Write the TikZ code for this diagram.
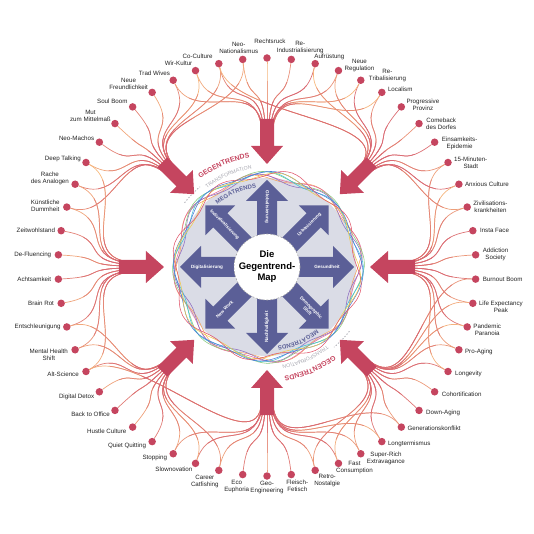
\documentclass[tikz,border=0pt]{standalone}
\usepackage{fontspec}
\setmainfont{Liberation Sans}
\usetikzlibrary{calc,decorations.text,backgrounds}
\definecolor{gtred}{HTML}{C5455F}
\definecolor{lnred}{HTML}{D65F73}
\definecolor{lnorange}{HTML}{F9BE7E}
\definecolor{mtpurple}{HTML}{5B5F97}
\definecolor{discgray}{HTML}{DADCE6}
\definecolor{tfgray}{HTML}{A7A7B0}
\definecolor{txtgray}{HTML}{222222}
\definecolor{ringA}{HTML}{F5A35C}
\definecolor{ringB}{HTML}{E56B9B}
\definecolor{ringC}{HTML}{8F6CC0}
\definecolor{ringD}{HTML}{86C97A}
\definecolor{ringE}{HTML}{3FC1D9}
\definecolor{ringF}{HTML}{4C78D8}
\definecolor{ringG}{HTML}{F2C94C}
\definecolor{ringH}{HTML}{E0556A}
\newcommand\gtconns[1]{%
\foreach \k in {0,...,53}{
  \pgfmathsetmacro{\ang}{90-\k*20/3}
  \pgfmathsetmacro{\tgt}{45*round(\ang/45)}
  \pgfmathsetmacro{\dlt}{\ang-\tgt}
  \pgfmathsetmacro{\off}{\dlt/22.5*6}
  \pgfmathtruncatemacro{\mix}{10+mod(\k*37,75)}
  \pgfmathtruncatemacro{\mc}{\mix+(90-\mix)*#1/2}
  \coordinate (in\k) at ($(\tgt:140)+(\tgt+90:\off)$);
  \draw[conn,draw=lnred!\mc!lnorange] (d\k) .. controls ($(\ang:160)$) and ($(\tgt:188)+(\tgt+90:2.5*\off)$) .. (in\k);
  \pgfmathtruncatemacro{\sec}{abs(\dlt)>12}
  \ifnum\sec=1
    \pgfmathsetmacro{\tgb}{\tgt+45*sign(\dlt)}
    \pgfmathsetmacro{\offb}{max(-6,min(6,(\ang-\tgb)/22.5*4))}
    \pgfmathtruncatemacro{\mixb}{5+mod(\k*23,45)}
    \pgfmathtruncatemacro{\mcb}{\mixb+(90-\mixb)*#1/2}
    \coordinate (jn\k) at ($(\tgb:140)+(\tgb+90:\offb)$);
    \draw[conn,draw=lnred!\mcb!lnorange] (d\k) .. controls ($(\ang:160)$) and ($(\tgb:190)+(\tgb+90:2.5*\offb)$) .. (jn\k);
  \fi
}
\foreach \k/\tgb in {52/-315,53/-225,5/90,36/-90,14/-45,15/-45,21/-90,22/-90}{
  \pgfmathsetmacro{\ang}{90-\k*20/3}
  \pgfmathsetmacro{\offb}{max(-6,min(6,(\ang-\tgb)/22.5*4))}
  \pgfmathtruncatemacro{\mixb}{5+mod(\k*17,40)}
  \pgfmathtruncatemacro{\mcb}{\mixb+(90-\mixb)*#1/2}
  \coordinate (xn\k) at ($(\tgb:140)+(\tgb+90:\offb)$);
  \draw[conn,draw=lnred!\mcb!lnorange] (d\k) .. controls ($(\ang:155)$) and ($(\tgb:195)+(\tgb+90:2.5*\offb)$) .. (xn\k);
}}
\begin{document}
\begin{tikzpicture}[x=1pt,y=1pt,
  dotnode/.style={circle,fill=gtred,inner sep=0pt,minimum size=7.5pt},
  lbl/.style={font=\fontsize{6.2}{7}\selectfont,align=center,inner sep=0pt,text=txtgray},
  conn/.style={line width=0.7pt,line cap=round},
  mtlbl/.style={font=\fontsize{4.6}{5.2}\selectfont\bfseries,text=white,align=center,inner sep=0pt},
  ringline/.style={line width=0.55pt},
  redarrow/.style={fill=gtred},
  purplearrow/.style={fill=mtpurple}
]
\useasboundingbox (-267,-267) rectangle (267,267);

% disc and rings
\fill[discgray] (0,0) circle (89);
\foreach \col/\ph/\am/\rr in {ringA/0/3.5/91,ringB/20/3/92,ringC/45/4/90,ringD/70/3/93,ringE/100/3.5/91.5,ringF/130/2.5/92.5,ringG/160/3/90.5,ringH/200/4/92}{
  \draw[ringline,\col] plot[smooth cycle,samples=72,domain=0:355] (\x:{\rr+\am*sin(8*\x+\ph)+1.5*sin(3*\x+\ph)});
}

% megatrend arrows
\foreach \tgt in {90,45,0,-45,-90,-135,180,135}{
  \fill[purplearrow,rotate=\tgt] (28,10) -- (66,10) -- (66,21) -- (87,0) -- (66,-21) -- (66,-10) -- (28,-10) -- cycle;
}
\foreach \i/\tgt/\rot/\txt in {1/90/-90/Globalisierung,2/45/45/Urbanisierung,3/0/0/Gesundheit,4/-45/-45/{Demographic\\Shift},5/-90/90/Nachhaltigkeit,6/-135/45/New Work,7/180/0/Digitalisierung,8/135/-45/Individualisierung}{
  \node[mtlbl,rotate=\rot] (m\i) at (\tgt:60) {\txt};
}

% centre
\node[circle,fill=white,draw=gray!70,dash pattern=on 2pt off 1.6pt,line width=0.6pt,minimum size=66pt,inner sep=0pt,
  font=\fontsize{9.5}{11.5}\selectfont\bfseries,align=center,text=black] (ctr) at (0,0) {Die\\Gegentrend-\\Map};

% ring texts
\foreach \s in {1,-1}{
  \pgfmathsetmacro{\st}{\s>0 ? 143 : -37}
  \pgfmathsetmacro{\en}{\st-60}
  \path[decorate,decoration={text along path,text align=center,text color=gtred,
    text={|\fontsize{7}{7}\selectfont\bfseries|GEGENTRENDS}}]
    (\st:110.5) arc[start angle=\st,end angle=\en,radius=110.5];
  \path[decorate,decoration={text along path,text align=center,text color=tfgray,
    text={|\fontsize{5.2}{5.2}\selectfont|TRANSFORMATION}}]
    (\st:99) arc[start angle=\st,end angle=\en,radius=99];
  \path[decorate,decoration={text along path,text align=center,text color=mtpurple,
    text={|\fontsize{6}{6}\selectfont\bfseries|MEGATRENDS}}]
    (\st:80) arc[start angle=\st,end angle=\en,radius=80];
  \draw[tfgray,line width=0.9pt,dash pattern=on 0.9pt off 2.2pt,line cap=round]
    (\st-1:104.5) arc[start angle=\st-1,end angle=\st-13,radius=104.5];
}

% dots
\foreach \k in {0,...,53}{
  \node[dotnode] (d\k) at ({90-\k*20/3}:209) {};
}

% connectors (colour shifts towards red near the arrows)
\begin{scope}[on background layer]
  \gtconns{0}
  \begin{scope}
    \clip (0,0) circle (186);
    \gtconns{1}
  \end{scope}
  \begin{scope}
    \clip (0,0) circle (166);
    \gtconns{2}
  \end{scope}
\end{scope}

% red arrows
\foreach \tgt in {90,45,0,-45,-90,-135,180,135}{
  \fill[redarrow,rotate=\tgt] (148,7) -- (121,7) -- (121,16) -- (103,0) -- (121,-16) -- (121,-7) -- (148,-7) -- cycle;
}

% labels
\foreach \k/\an/\dx/\dy/\txt in {
0/center/3/17/Rechtsruck,
1/south/9/5/{Re-\\Industrialisierung},
2/south west/-1/4/Aufrüstung,
3/west/6/5/{Neue\\Regulation},
4/west/8/5/{Re-\\Tribalisierung},
5/west/6/3/Localism,
6/west/5/2/{Progressive\\Provinz},
7/west/7/0/{Comeback\\des Dorfes},
8/west/7/-1/{Einsamkeits-\\Epidemie},
9/west/6/0/{15-Minuten-\\Stadt},
10/west/6/0/Anxious Culture,
11/west/6/0/{Zivilisations-\\krankheiten},
12/west/7/0/Insta Face,
13/west/7/0/{Addiction\\Society},
14/west/7/0/Burnout Boom,
15/west/6/-3/{Life Expectancy\\Peak},
16/west/6/-3/{Pandemic\\Paranoia},
17/west/6/-2/Pro-Aging,
18/west/7/-2/Longevity,
19/west/7/-2/Cohortification,
20/west/7/-2/Down-Aging,
21/west/6/-1/Generationskonflikt,
22/west/6/-2/Longtermismus,
23/west/6/-5/{Super-Rich\\Extravagance},
24/north/16/2/{Fast\\Consumption},
25/north/12/-4/{Retro-\\Nostalgie},
26/north/6/-5/{Fleisch-\\Fetisch},
27/north/0/-5/{Geo-\\Engineering},
28/north/-6/-5/{Eco\\Euphoria},
29/north/-14/-5/{Career\\Catfishing},
30/east/-3/-6/Slownovation,
31/east/-6/-4/Stopping,
32/east/-6/-4/Quiet Quitting,
33/east/-6/-4/Hustle Culture,
34/east/-5/-4/Back to Office,
35/east/-5/-5/Digital Detox,
36/east/-7/-3/Alt-Science,
37/east/-7/-5/{Mental Health\\Shift},
38/east/-6/0/Entschleunigung,
39/east/-7/0/Brain Rot,
40/east/-7/0/Achtsamkeit,
41/east/-7/0/De-Fluencing,
42/east/-6/0/Zeitwohlstand,
43/east/-7/1/{Künstliche\\Dummheit},
44/east/-6/6/{Rache\\des Analogen},
45/east/-5/4/Deep Talking,
46/east/-5/4/Neo-Machos,
47/east/-4/8/{Mut\\zum Mittelmaß},
48/east/-5/6/Soul Boom,
49/east/-4/8/{Neue\\Freundlichkeit},
50/east/-3/7/Trad Wives,
51/east/-3/7/Wir-Kultur,
52/east/-6/7/Co-Culture,
53/south/-4/6/{Neo-\\Nationalismus}}{
  \node[lbl,anchor=\an] (l\k) at ($(d\k)+(\dx,\dy)$) {\txt};
}
\end{tikzpicture}
\end{document}
